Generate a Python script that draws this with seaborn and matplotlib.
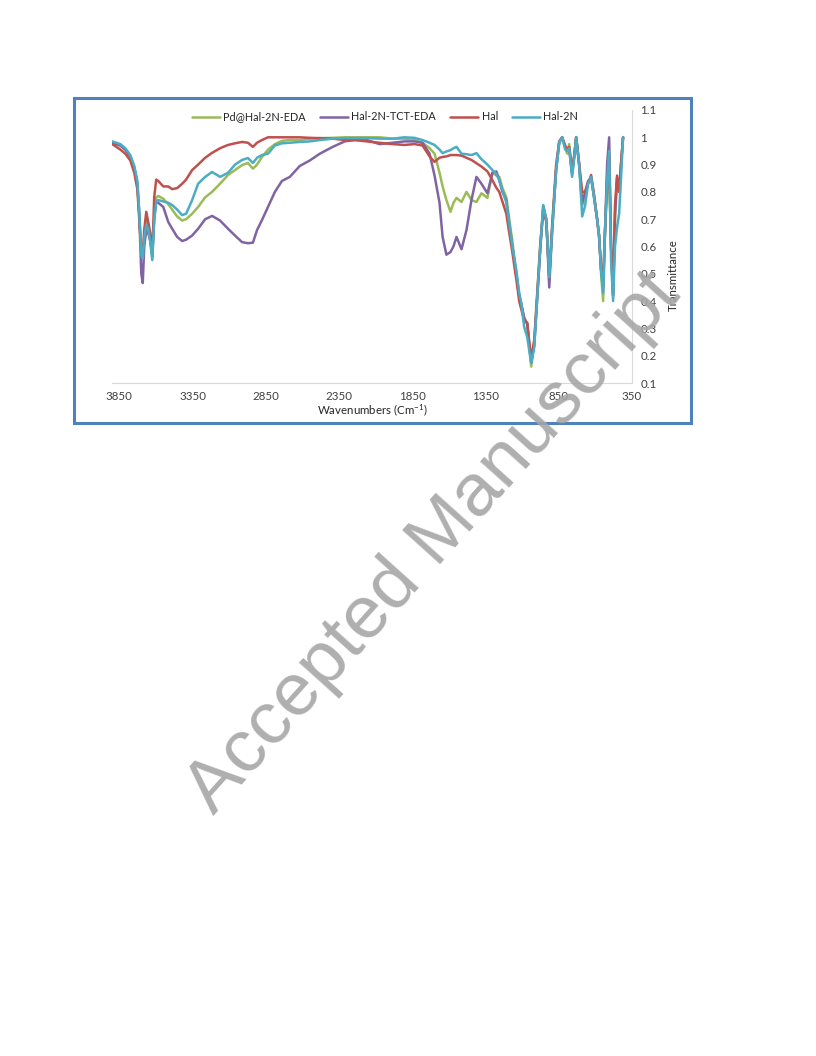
import numpy as np
import pandas as pd
import matplotlib.pyplot as plt
import seaborn as sns
from matplotlib.patches import Rectangle

# wavenumber grid (cm-1) shared by all spectra
wavenumbers = [3898, 3843, 3809, 3775, 3748, 3727, 3714, 3700, 3690, 3680, 3666, 3653, 3639, 3625,
               3612, 3598, 3584, 3550, 3516, 3489, 3455, 3421, 3394, 3353, 3312, 3264, 3217, 3162,
               3108, 3060, 3012, 2972, 2938, 2910, 2876, 2835, 2788, 2740, 2686, 2618, 2550, 2481,
               2393, 2311, 2243, 2161, 2073, 1984, 1903, 1835, 1780, 1732, 1698, 1664, 1643, 1617,
               1589, 1569, 1548, 1514, 1480, 1446, 1412, 1378, 1337, 1303, 1276, 1256, 1235, 1208,
               1188, 1167, 1140, 1120, 1106, 1086, 1065, 1052, 1038, 1017, 997, 976, 956, 935,
               915, 895, 868, 847, 827, 806, 792, 779, 759, 745, 731, 711, 690, 670, 650, 629,
               609, 588, 575, 561, 547, 534, 520, 506, 493, 479, 466, 452, 438, 425, 411]

pd_hal_2n_eda = [.98, .97, .955, .93, .89, .83, .72, .58, .56, .64, .71, .68, .63, .56,
                 .70, .78, .785, .775, .755, .735, .71, .695, .70, .72, .745, .78, .80, .83,
                 .862, .88, .898, .906, .885, .90, .928, .955, .975, .987, .99, .99, .995, .997,
                 .998, 1.0, 1.0, 1.0, 1.0, .995, .995, .99, .98, .96, .94, .87, .82, .77,
                 .727, .76, .778, .763, .80, .77, .763, .795, .778, .87, .86, .855, .815, .78,
                 .70, .62, .50, .42, .39, .33, .32, .24, .16, .25, .42, .60, .75, .70,
                 .48, .66, .88, .98, 1.0, .96, .94, .975, .87, .93, 1.0, .90, .75, .78, .83, .855,
                 .78, .70, .64, .50, .40, .66, .86, .85, .60, .42, .70, .85, .80, .90, 1.0]

hal_2n_tct_eda = [.98, .97, .955, .93, .89, .83, .72, .50, .466, .60, .66, .65, .62, .57,
                  .70, .765, .76, .745, .69, .665, .635, .62, .625, .64, .665, .70, .712, .695,
                  .665, .64, .616, .612, .614, .66, .697, .745, .80, .84, .855, .895, .915, .94,
                  .965, .985, .99, .99, .975, .98, .985, .985, .98, .94, .86, .76, .635, .57,
                  .58, .60, .635, .59, .66, .77, .855, .83, .795, .87, .875, .843, .80, .77,
                  .68, .60, .50, .42, .39, .34, .315, .25, .175, .24, .41, .59, .745, .70,
                  .45, .66, .88, .98, 1.0, .965, .95, .96, .865, .93, 1.0, .90, .76, .80, .84, .85,
                  .78, .70, .64, .52, .45, .66, .90, 1.0, .60, .42, .72, .85, .81, .90, 1.0]

hal = [.975, .955, .94, .915, .87, .81, .70, .58, .57, .66, .727, .69, .65, .565,
       .78, .845, .84, .82, .82, .81, .814, .83, .845, .88, .90, .925, .943, .96,
       .972, .978, .983, .98, .965, .98, .99, 1.0, 1.0, 1.0, 1.0, 1.0, .998, .997,
       .995, .99, .99, .985, .98, .975, .972, .975, .97, .93, .91, .925, .928, .93,
       .935, .935, .935, .933, .925, .917, .905, .893, .875, .843, .815, .80, .765, .72,
       .65, .58, .48, .40, .37, .33, .32, .25, .19, .26, .43, .61, .73, .69,
       .49, .68, .90, .985, 1.0, .97, .955, .965, .875, .93, 1.0, .905, .80, .80, .83, .862,
       .79, .70, .64, .515, .48, .66, .82, .93, .60, .42, .75, .86, .80, .90, 1.0]

hal_2n = [.985, .975, .96, .935, .895, .84, .73, .57, .555, .63, .68, .665, .62, .55,
          .70, .765, .77, .765, .76, .752, .735, .715, .72, .77, .83, .855, .873, .855,
          .87, .90, .917, .924, .906, .925, .935, .94, .97, .978, .98, .983, .985, .99,
          .995, .997, .997, .997, .995, .995, 1.0, .998, .99, .98, .972, .955, .942, .948,
          .953, .96, .965, .94, .938, .935, .942, .92, .90, .88, .865, .843, .807, .76,
          .686, .60, .514, .43, .393, .305, .268, .22, .173, .232, .415, .60, .752, .697,
          .488, .66, .88, .98, 1.0, .955, .95, .96, .855, .92, 1.0, .90, .71, .75, .83, .855,
          .78, .70, .64, .51, .43, .66, .84, .95, .55, .40, .60, .67, .72, .85, 1.0]

series_names = ["Pd@Hal-2N-EDA", "Hal-2N-TCT-EDA", "Hal", "Hal-2N"]
series_colors = ["#9BBB59", "#8064A2", "#C0504D", "#4BACC6"]

x_ticks = [3850, 3350, 2850, 2350, 1850, 1350, 850, 350]
y_ticks = [0.1, 0.2, 0.3, 0.4, 0.5, 0.6, 0.7, 0.8, 0.9, 1.0, 1.1]
y_tick_labels = ["0.1", "0.2", "0.3", "0.4", "0.5", "0.6", "0.7", "0.8", "0.9", "1", "1.1"]

# long-form table for seaborn
frames = []
for name, vals in zip(series_names, [pd_hal_2n_eda, hal_2n_tct_eda, hal, hal_2n]):
    frames.append(pd.DataFrame({"wn": wavenumbers, "T": vals, "sample": name}))
df = pd.concat(frames, ignore_index=True)

sns.set_style("white")
plt.rcParams["font.family"] = ["Lato", "DejaVu Sans"]
plt.rcParams["mathtext.default"] = "regular"

fig = plt.figure(figsize=(8.16, 10.56), dpi=100)
ax = fig.add_axes([112 / 816, 1 - 383 / 1056, (632 - 112) / 816, (383 - 110) / 1056])

sns.lineplot(data=df, x="wn", y="T", hue="sample", hue_order=series_names,
             palette=series_colors, linewidth=1.8, sort=True, ax=ax, legend=False)

ax.set_xlim(3900, 350)
ax.set_ylim(0.1, 1.1)
ax.set_xticks(x_ticks)
ax.set_xticklabels([str(t) for t in x_ticks], fontsize=8.3, color="#404040")
ax.yaxis.tick_right()
ax.set_yticks(y_ticks)
ax.set_yticklabels(y_tick_labels, fontsize=8.3, color="#404040")
ax.tick_params(length=0, pad=6)
for side in ["top", "left"]:
    ax.spines[side].set_visible(False)
ax.spines["bottom"].set_color("#D9D9D9")
ax.spines["right"].set_color("#D9D9D9")
ax.set_xlabel("Wavenumbers (Cm$^{-1}$)", fontsize=8.3, color="#262626", labelpad=0)
ax.set_ylabel("")
fig.text(673 / 816, 1 - 275 / 1056, "Transmittance", rotation=90, fontsize=8.3,
         color="#262626", ha="center", va="center")

handles = [plt.Line2D([], [], color=c, lw=1.8) for c in series_colors]
fig.legend(handles, series_names, loc="center", bbox_to_anchor=(385 / 816, 1 - 117 / 1056),
           ncol=4, frameon=False, fontsize=7.8, handlelength=2.6, columnspacing=1.3,
           handletextpad=0.3)

# chart border
fig.patches.append(Rectangle((74 / 816, 1 - 423 / 1056), (691 - 74) / 816, (423 - 98) / 1056,
                             transform=fig.transFigure, fill=False, edgecolor="#4F81BD",
                             linewidth=2.2))

# watermark
fig.text(433 / 816, 1 - 543 / 1056, "Accepted Manuscript", rotation=48, fontsize=54,
         family="Liberation Sans", color="#A6A6A6", alpha=0.9, ha="center", va="center",
         rotation_mode="anchor")

fig.savefig("out.png", dpi=100, facecolor="white")
